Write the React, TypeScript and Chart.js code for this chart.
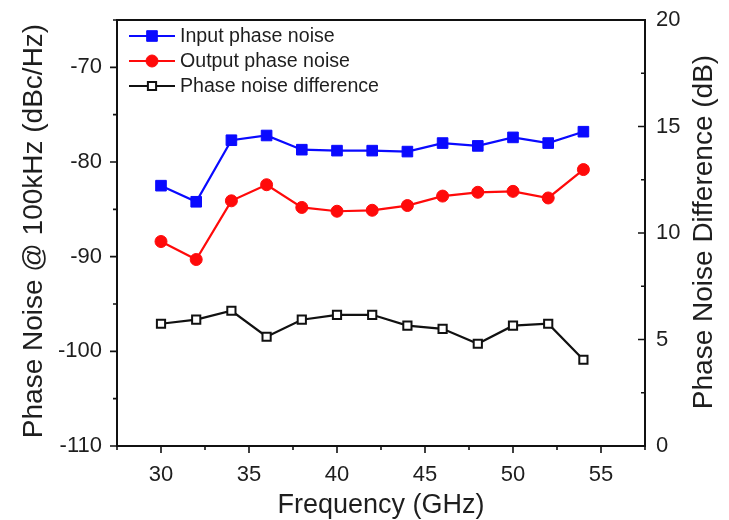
import React, { useEffect, useRef } from "react";
import { Chart, registerables } from "chart.js";

Chart.register(...registerables);

// ---- data ----
const frequencies = [30, 32, 34, 36, 38, 40, 42, 44, 46, 48, 50, 52, 54];
const inputPhaseNoise = [-82.5, -84.2, -77.7, -77.2, -78.7, -78.8, -78.8, -78.9, -78.0, -78.3, -77.4, -78.0, -76.8];
const outputPhaseNoise = [-88.4, -90.3, -84.1, -82.4, -84.8, -85.2, -85.1, -84.6, -83.6, -83.2, -83.1, -83.8, -80.8];
const phaseNoiseDifference = [5.74, 5.93, 6.35, 5.13, 5.93, 6.16, 6.16, 5.65, 5.5, 4.8, 5.65, 5.74, 4.05];

const xMajorTicks = [30, 35, 40, 45, 50, 55];
const xMinorTicks = [27.5, 32.5, 37.5, 42.5, 47.5, 52.5, 57.5];
const leftMajorTicks = [-110, -100, -90, -80, -70];
const leftMinorTicks = [-105, -95, -85, -75, -65];
const rightMajorTicks = [0, 5, 10, 15, 20];
const rightMinorTicks = [2.5, 7.5, 12.5, 17.5];

const seriesNames = ["Input phase noise", "Output phase noise", "Phase noise difference"];
const xTitle = "Frequency (GHz)";
const leftTitle = "Phase Noise @ 100kHz (dBc/Hz)";
const rightTitle = "Phase Noise Difference (dB)";

const FONT = '"Liberation Sans", Arial, Helvetica, sans-serif';
const TEXT = "#1e1e1e";
const BLUE = "#0a0aff";
const RED = "#ff0a0a";
const BLACK = "#111111";

const decorPlugin = {
  id: "decor",
  afterDraw(chart: any) {
    const ctx = chart.ctx as CanvasRenderingContext2D;
    const { left, right, top, bottom } = chart.chartArea;
    const xs = chart.scales.x;
    const yl = chart.scales.y;
    const yr = chart.scales.y2;
    ctx.save();
    // frame
    ctx.strokeStyle = BLACK;
    ctx.lineWidth = 2;
    ctx.strokeRect(left, top, right - left, bottom - top);
    // ticks
    ctx.lineWidth = 1.6;
    ctx.beginPath();
    const MAJ = 7, MIN = 4;
    xMajorTicks.forEach((v) => { const p = xs.getPixelForValue(v); ctx.moveTo(p, bottom); ctx.lineTo(p, bottom + MAJ); });
    xMinorTicks.forEach((v) => { const p = xs.getPixelForValue(v); ctx.moveTo(p, bottom); ctx.lineTo(p, bottom + MIN); });
    leftMajorTicks.forEach((v) => { const p = yl.getPixelForValue(v); ctx.moveTo(left, p); ctx.lineTo(left - MAJ, p); });
    leftMinorTicks.forEach((v) => { const p = yl.getPixelForValue(v); ctx.moveTo(left, p); ctx.lineTo(left - MIN, p); });
    rightMajorTicks.forEach((v) => { const p = yr.getPixelForValue(v); ctx.moveTo(right, p); ctx.lineTo(right - MAJ, p); });
    rightMinorTicks.forEach((v) => { const p = yr.getPixelForValue(v); ctx.moveTo(right, p); ctx.lineTo(right - MIN, p); });
    ctx.stroke();

    // axis titles
    ctx.fillStyle = TEXT;
    ctx.font = `27px ${FONT}`;
    ctx.textAlign = "center";
    ctx.textBaseline = "alphabetic";
    ctx.fillText(xTitle, (left + right) / 2, 513);
    ctx.font = `28px ${FONT}`;
    ctx.save();
    ctx.translate(42, 231);
    ctx.rotate(-Math.PI / 2);
    ctx.fillText(leftTitle, 0, 0);
    ctx.restore();
    ctx.save();
    ctx.translate(712, 232);
    ctx.rotate(-Math.PI / 2);
    ctx.fillText(rightTitle, 0, 0);
    ctx.restore();

    // legend
    const rows = [36, 61, 86];
    const lx0 = 129, lx1 = 175, mx = 152;
    chart.data.datasets.forEach((ds: any, i: number) => {
      const y = rows[i];
      ctx.strokeStyle = ds.borderColor;
      ctx.lineWidth = 2.2;
      ctx.beginPath();
      ctx.moveTo(lx0, y);
      ctx.lineTo(lx1, y);
      ctx.stroke();
      ctx.fillStyle = ds.pointBackgroundColor;
      ctx.strokeStyle = ds.pointBorderColor;
      ctx.lineWidth = ds.pointBorderWidth;
      if (ds.pointStyle === "circle") {
        ctx.beginPath();
        ctx.arc(mx, y, ds.pointRadius, 0, Math.PI * 2);
        ctx.fill();
        ctx.stroke();
      } else {
        const s = ds.pointRadius * Math.SQRT1_2;
        ctx.beginPath();
        ctx.rect(mx - s, y - s, 2 * s, 2 * s);
        ctx.fill();
        ctx.stroke();
      }
      ctx.fillStyle = TEXT;
      ctx.font = `19.6px ${FONT}`;
      ctx.textAlign = "left";
      ctx.textBaseline = "middle";
      ctx.fillText(ds.label, 180, y + 1);
    });
    ctx.restore();
  },
};

export default function App() {
  const ref = useRef<HTMLCanvasElement | null>(null);
  useEffect(() => {
    if (!ref.current) return;
    const toXY = (vals: number[]) => frequencies.map((f, i) => ({ x: f, y: vals[i] }));
    const fitV = (w: number) => (s: any) => { s.width = w; s.paddingTop = 0; s.paddingBottom = 0; };
    const chart = new Chart(ref.current, {
      type: "line",
      data: {
        datasets: [
          {
            label: seriesNames[0],
            data: toXY(inputPhaseNoise),
            yAxisID: "y",
            borderColor: BLUE,
            backgroundColor: BLUE,
            borderWidth: 2.2,
            pointStyle: "rect",
            pointRadius: 7.5,
            pointBackgroundColor: BLUE,
            pointBorderColor: BLUE,
            pointBorderWidth: 1,
          } as any,
          {
            label: seriesNames[1],
            data: toXY(outputPhaseNoise),
            yAxisID: "y",
            borderColor: RED,
            backgroundColor: RED,
            borderWidth: 2.2,
            pointStyle: "circle",
            pointRadius: 6,
            pointBackgroundColor: RED,
            pointBorderColor: RED,
            pointBorderWidth: 1,
          } as any,
          {
            label: seriesNames[2],
            data: toXY(phaseNoiseDifference),
            yAxisID: "y2",
            borderColor: BLACK,
            backgroundColor: "#ffffff",
            borderWidth: 2.2,
            pointStyle: "rect",
            pointRadius: 5.8,
            pointBackgroundColor: "#ffffff",
            pointBorderColor: BLACK,
            pointBorderWidth: 2,
          } as any,
        ],
      },
      options: {
        animation: false,
        responsive: true,
        maintainAspectRatio: false,
        layout: { padding: { top: 20, left: 0, right: 0, bottom: 0 } },
        plugins: { legend: { display: false }, tooltip: { enabled: false } },
        scales: {
          x: {
            type: "linear",
            position: "bottom",
            min: 27.5,
            max: 57.5,
            grid: { display: false, drawTicks: false },
            border: { display: false },
            afterBuildTicks: (s: any) => { s.ticks = xMajorTicks.map((v) => ({ value: v })); },
            afterFit: (s: any) => { s.height = 74; s.paddingLeft = 0; s.paddingRight = 0; },
            ticks: { padding: 16, color: TEXT, font: { family: FONT, size: 22 }, maxRotation: 0, autoSkip: false },
          },
          y: {
            type: "linear",
            position: "left",
            min: -110,
            max: -65,
            grid: { display: false, drawTicks: false },
            border: { display: false },
            afterBuildTicks: (s: any) => { s.ticks = leftMajorTicks.map((v) => ({ value: v })); },
            afterFit: fitV(117),
            ticks: { padding: 15, color: TEXT, font: { family: FONT, size: 22 }, autoSkip: false },
          },
          y2: {
            type: "linear",
            position: "right",
            min: 0,
            max: 20,
            grid: { display: false, drawTicks: false },
            border: { display: false },
            afterBuildTicks: (s: any) => { s.ticks = rightMajorTicks.map((v) => ({ value: v })); },
            afterFit: fitV(84),
            ticks: { padding: 11, color: TEXT, font: { family: FONT, size: 22 }, autoSkip: false },
          },
        },
      } as any,
      plugins: [decorPlugin],
    });
    return () => chart.destroy();
  }, []);
  return (
    <div style={{ position: "fixed", left: 0, top: 0, width: 729, height: 520, background: "#fff" }}>
      <canvas ref={ref} />
    </div>
  );
}
